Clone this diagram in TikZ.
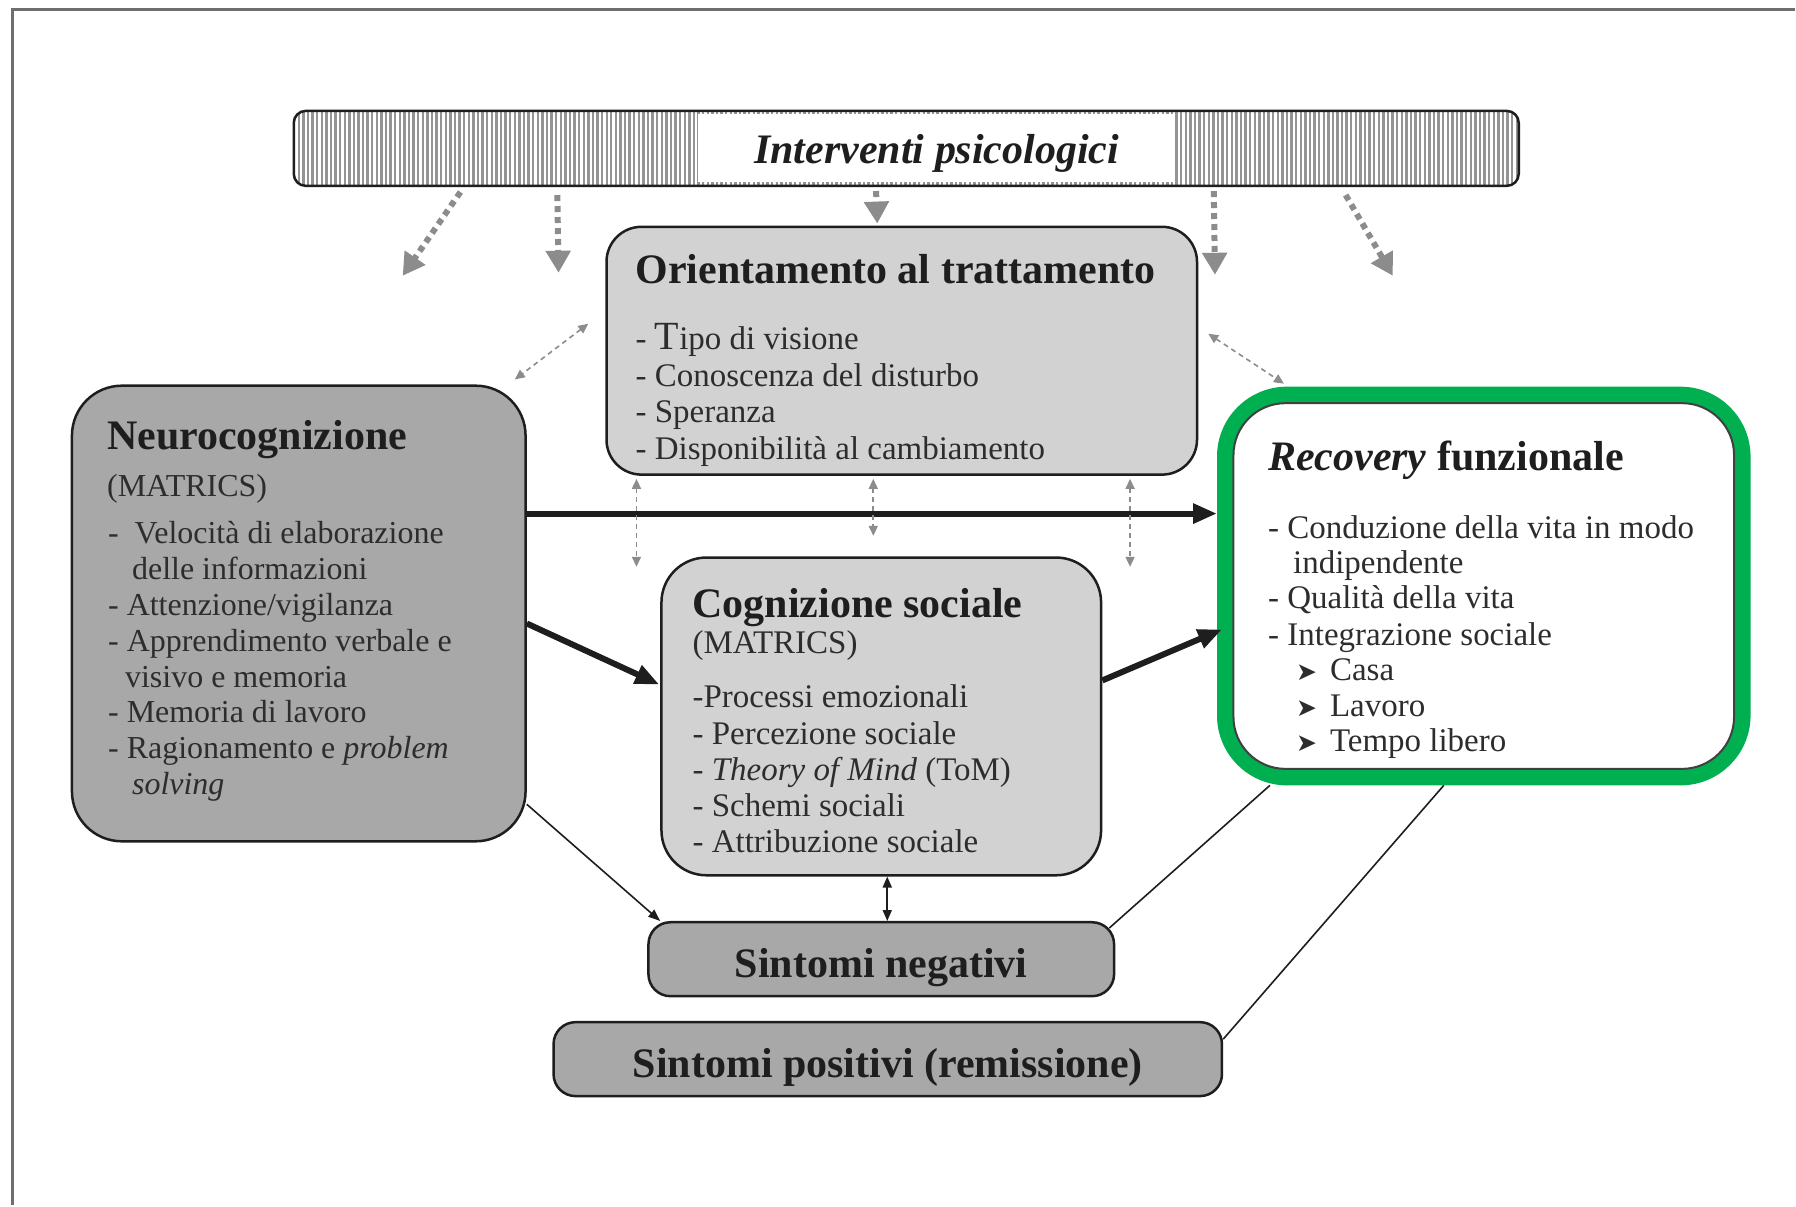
\documentclass[tikz,border=0pt]{standalone}
\usepackage{fontspec}
\setmainfont{Liberation Serif}
\newfontfamily\arrowsym{DejaVu Sans}
\usetikzlibrary{arrows.meta,patterns.meta,calc}

\definecolor{boxdark}{RGB}{168,168,168}
\definecolor{boxlight}{RGB}{210,210,210}
\definecolor{recgreen}{RGB}{0,176,80}
\definecolor{framegray}{RGB}{110,110,110}
\definecolor{dotgray}{RGB}{140,140,140}
\definecolor{ink}{RGB}{30,30,30}
\definecolor{txt}{RGB}{45,45,45}

\begin{document}
\begin{tikzpicture}[x=1pt,y=-1pt,
  box/.style={draw=ink, line width=2.5pt, rounded corners=#1, inner sep=0pt},
  bandtxt/.style={text=ink, font=\fontsize{42}{46}\selectfont\bfseries,
    text height=42pt, text depth=4.5pt},
  ttl/.style={anchor=base west, inner sep=0pt, text=ink,
    font=\fontsize{42}{46}\selectfont\bfseries},
  itm/.style={anchor=base west, inner sep=0pt, text=txt,
    font=\fontsize{33}{36}\selectfont},
  itms/.style={anchor=base west, inner sep=0pt, text=txt,
    font=\fontsize{32}{35}\selectfont},
  heavy/.style={ink, line width=6pt, -{Triangle[length=24pt,width=19pt]}},
  thinarrow/.style={ink, line width=1.6pt, -{Triangle[length=12pt,width=9pt]}},
  thinline/.style={ink, line width=1.6pt},
  dotarrow/.style={dotgray, line width=6pt, dash pattern=on 6pt off 5pt,
    -{Triangle[length=22pt,width=24pt]}},
  dashdbl/.style={dotgray, line width=1.6pt, dash pattern=on 5pt off 4pt,
    {Triangle[length=10pt,width=9pt]}-{Triangle[length=10pt,width=9pt]}},
]
% page and frame
\fill[white] (0,0) rectangle (1796,1206);
\draw[framegray, line width=3pt] (13,1206) -- (13,10) -- (1796,10);

% top bar
\node[box=12pt, minimum width=1226pt, minimum height=75pt,
  pattern={Lines[angle=90,distance=4.6pt,line width=2.4pt]}, pattern color=black!42]
  (interv) at (907,148.5) {};
\node[fill=white, minimum width=477pt, minimum height=68pt, inner sep=0pt]
  (intertxt) at (937.5,148.5) {};
\node[inner sep=0pt, text=ink, font=\fontsize{42}{46}\selectfont\bfseries\itshape]
  (interlabel) at (937.5,154) {Interventi psicologici};

% boxes
\node[box=35pt, fill=boxlight, minimum width=591pt, minimum height=248pt] (orient) at (902.5,351) {};
\node[box=50pt, fill=boxdark, minimum width=454pt, minimum height=456pt] (neuro) at (299,614) {};
\node[box=45pt, fill=boxlight, minimum width=440pt, minimum height=318pt] (cogn) at (882,717) {};
\node[draw=recgreen, line width=16pt, rounded corners=62pt, fill=white, inner sep=0pt,
  minimum width=518pt, minimum height=383pt] (recov) at (1485,586.5) {};
\draw[ink!85, line width=2pt, rounded corners=52pt]
  ([shift={(16.5,16.5)}]recov.north west) rectangle ([shift={(-16.5,-16.5)}]recov.south east);
\node[box=22pt, fill=boxdark, minimum width=466pt, minimum height=74pt, bandtxt]
  (neg) at (882,960) {Sintomi negativi};
\node[box=22pt, fill=boxdark, minimum width=669pt, minimum height=74pt, bandtxt]
  (pos) at (888.5,1060) {Sintomi positivi (remissione)};

% texts: Orientamento
\node[ttl] (orientT) at (636,284) {Orientamento al trattamento};
\node[itm] (o1) at (636,350) {- {\fontsize{40}{40}\selectfont T}ipo di visione};
\node[itm] (o2) at (636,387) {- Conoscenza del disturbo};
\node[itm] (o3) at (636,423) {- Speranza};
\node[itm] (o4) at (636,460) {- Disponibilità al cambiamento};

% texts: Neurocognizione
\node[ttl] (neuroT) at (107,450) {Neurocognizione};
\node[itms] (nm) at (107,497) {(MATRICS)};
\node[itms] (n1) at (108,544) {-\hspace{16pt}Velocità di elaborazione};
\node[itms] (n2) at (132,580) {delle informazioni};
\node[itms] (n3) at (108,616) {- Attenzione/vigilanza};
\node[itms] (n4) at (108,652) {- Apprendimento verbale e};
\node[itms] (n5) at (125,688) {visivo e memoria};
\node[itms] (n6) at (108,723) {- Memoria di lavoro};
\node[itms] (n7) at (108,759) {- Ragionamento e \textit{problem}};
\node[itms] (n8) at (132,795) {\textit{solving}};

% texts: Cognizione sociale
\node[ttl] (cognT) at (693,618) {Cognizione sociale};
\node[itm] (cm) at (693,654) {(MATRICS)};
\node[itm] (c1) at (693,708) {-Processi emozionali};
\node[itm] (c2) at (693,745) {- Percezione sociale};
\node[itm] (c3) at (693,781) {- \textit{Theory of Mind} (ToM)};
\node[itm] (c4) at (693,817) {- Schemi sociali};
\node[itm] (c5) at (693,853) {- Attribuzione sociale};

% texts: Recovery funzionale
\node[ttl] (recT) at (1269,471) {\textit{Recovery} funzionale};
\node[itm] (r1) at (1269,539) {- Conduzione della vita in modo};
\node[itm] (r2) at (1294,574) {indipendente};
\node[itm] (r3) at (1269,609) {- Qualità della vita};
\node[itm] (r4) at (1269,646) {- Integrazione sociale};
\node[itm] (r5) at (1297,681) {{\arrowsym\fontsize{25}{25}\selectfont ➤}\hspace{13pt}Casa};
\node[itm] (r6) at (1297,717) {{\arrowsym\fontsize{25}{25}\selectfont ➤}\hspace{13pt}Lavoro};
\node[itm] (r7) at (1297,752) {{\arrowsym\fontsize{25}{25}\selectfont ➤}\hspace{13pt}Tempo libero};

% heavy causal arrows
\coordinate (nr1) at ([shift={(0,-100)}]neuro.east);
\draw[heavy] (nr1) -- (nr1 -| recov.west);
\draw[heavy] ([shift={(0,10)}]neuro.east) -- ([shift={(-1,-32)}]cogn.west);
\draw[heavy] ([shift={(0,-36)}]cogn.east) -- ([shift={(5,43.5)}]recov.west);

% thin links
\draw[thinarrow] ([shift={(0,191)}]neuro.east) -- ([shift={(13,0)}]neg.north west);
\draw[ink, line width=1.8pt, {Triangle[length=11pt,width=9pt]}-{Triangle[length=11pt,width=9pt]}]
  ([shift={(6,0)}]cogn.south) -- ([shift={(6,0)}]neg.north);
\draw[thinline] ([shift={(-6,7)}]neg.north east) -- ([shift={(-214,0)}]recov.south);
\draw[thinline] ([shift={(0,-20)}]pos.east) -- ([shift={(-40,0)}]recov.south);

% influence of the interventions
\coordinate (e1) at (403,276);
\coordinate (e2) at (559,273);
\coordinate (e4) at (1216,275);
\coordinate (e5) at (1394,276);
\draw[dotarrow] ([shift={(168,5)}]interv.south west) -- (e1);
\draw[dotarrow] ([shift={(265,8)}]interv.south west) -- (e2);
\draw[dotarrow] ([shift={(584,4)}]interv.south west) -- ([shift={(-24.5,-2)}]orient.north);
\draw[dotarrow] ([shift={(922,4)}]interv.south west) -- (e4);
\draw[dotarrow] ([shift={(1054,8)}]interv.south west) -- (e5);

% dashed reciprocal links
\draw[dashdbl] ([shift={(-17,-27)}]orient.west) -- ([shift={(-12,-5)}]neuro.north east);
\draw[dashdbl] ([shift={(10,-17)}]orient.east) -- ([shift={(67,-3)}]recov.north west);
\coordinate (v1) at ([shift={(-265.5,91)}]orient.south);
\coordinate (v2) at ([shift={(-28.5,60)}]orient.south);
\coordinate (v3) at ([shift={(228.5,91)}]orient.south);
\draw[dashdbl] ([shift={(-265.5,3)}]orient.south) -- (v1);
\draw[dashdbl] ([shift={(-28.5,3)}]orient.south) -- (v2);
\draw[dashdbl] ([shift={(228.5,3)}]orient.south) -- (v3);
\end{tikzpicture}
\end{document}
